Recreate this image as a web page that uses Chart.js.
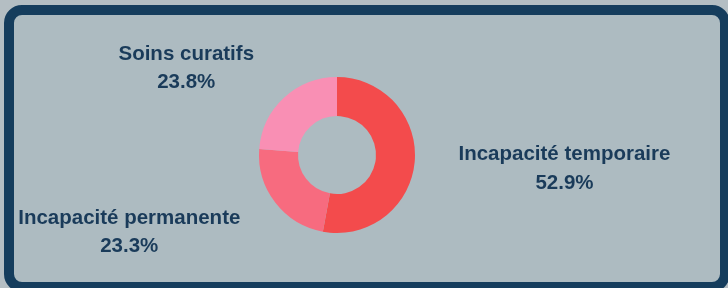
<!DOCTYPE html>
<html>
<head>
<meta charset="utf-8">
<script src="https://cdn.jsdelivr.net/npm/chart.js@4"></script>
<style>
  html, body { margin: 0; padding: 0; }
  body { width: 728px; height: 288px; background: #b4bec3; overflow: hidden; position: relative; }
  .card {
    position: absolute; left: 4px; top: 5px; width: 726px; height: 287px;
    box-sizing: border-box; border: 10px solid #153d5d; border-radius: 18px;
    background: #adbbc1; overflow: hidden;
  }
  .chartBox { position: absolute; left: 0; top: 0; width: 706px; height: 267px; }
</style>
</head>
<body>
<div class="card">
  <div class="chartBox"><canvas id="soinsChart"></canvas></div>
</div>
<script>
const categories = ['Incapacité temporaire', 'Incapacité permanente', 'Soins curatifs'];
const shares = [52.9, 23.3, 23.8];
const sliceColors = ['#f34b4c', '#f76b7f', '#f98fb4'];

// draws "label / pct" next to each slice, pushed out along the slice middle
const outLabels = {
  id: 'outLabels',
  afterDatasetsDraw(chart) {
    const ctx = chart.ctx;
    const arcs = chart.getDatasetMeta(0).data;
    ctx.save();
    ctx.font = 'bold 20.5px "Liberation Sans", Arial, sans-serif';
    ctx.fillStyle = '#1a3b5a';
    ctx.textAlign = 'center';
    ctx.textBaseline = 'middle';
    arcs.forEach((arc, i) => {
      const p = arc.getProps(['x', 'y', 'startAngle', 'endAngle', 'outerRadius'], true);
      const mid = (p.startAngle + p.endAngle) / 2;
      const r = p.outerRadius + 44;
      const ax = p.x + Math.cos(mid) * r;
      const ay = p.y + Math.sin(mid) * r;
      const lines = [categories[i], shares[i].toFixed(1) + '%'];
      const w = Math.max(...lines.map(t => ctx.measureText(t).width));
      const cx = Math.cos(mid) >= 0 ? ax + w / 2 : ax - w / 2;
      ctx.fillText(lines[0], cx, ay - 11.5);
      ctx.fillText(lines[1], cx, ay + 17);
    });
    ctx.restore();
  }
};

new Chart(document.getElementById('soinsChart'), {
  type: 'doughnut',
  data: {
    labels: categories,
    datasets: [{
      data: shares,
      backgroundColor: sliceColors,
      borderWidth: 0
    }]
  },
  options: {
    responsive: true,
    maintainAspectRatio: false,
    animation: false,
    cutout: '50%',
    layout: { padding: { top: 62, bottom: 49, left: 0, right: 60 } },
    plugins: {
      legend: { display: false },
      tooltip: { enabled: false }
    }
  },
  plugins: [outLabels]
});
</script>
</body>
</html>
